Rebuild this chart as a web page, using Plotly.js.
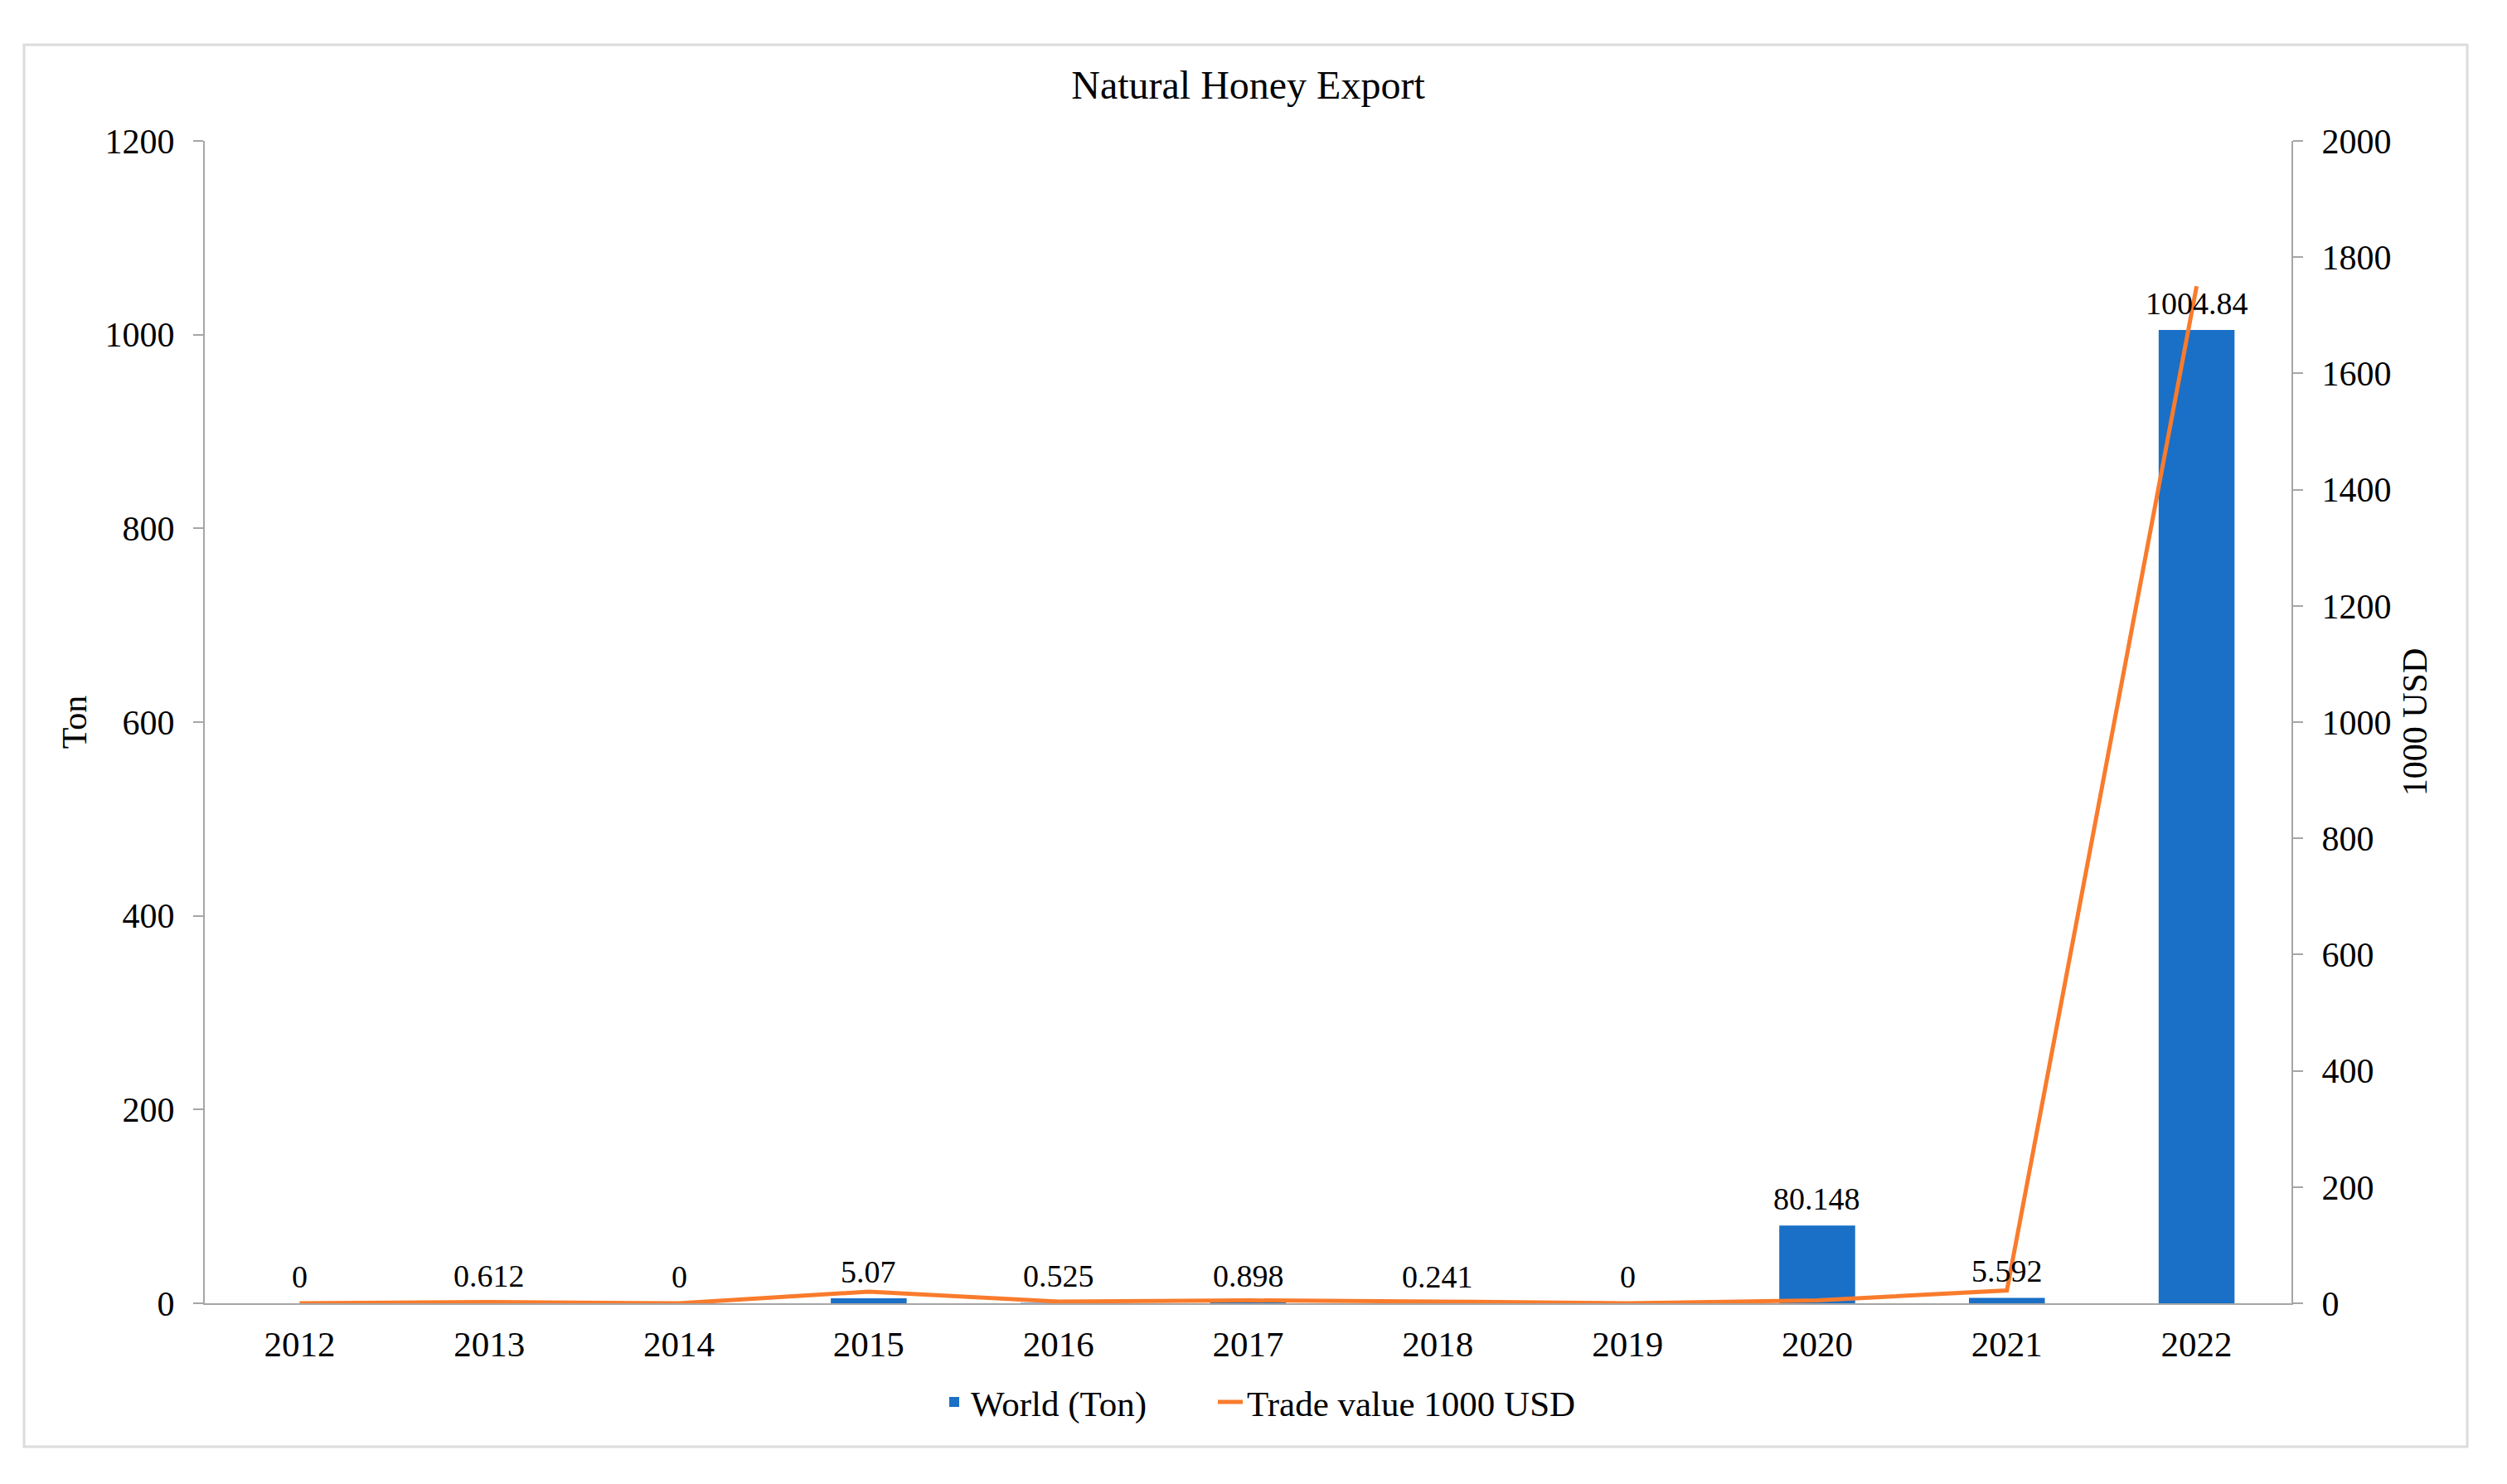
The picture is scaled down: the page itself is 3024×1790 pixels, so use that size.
<!DOCTYPE html>
<html>
<head>
<meta charset="utf-8">
<script src="https://cdn.plot.ly/plotly-3.0.1.min.js"></script>
<style>html,body{margin:0;padding:0;background:#fff;}#chart{width:3024px;height:1790px;}</style>
</head>
<body>
<div id="chart"></div>
<script>
const years = ['2012','2013','2014','2015','2016','2017','2018','2019','2020','2021','2022'];
const worldTon = [0, 0.612, 0, 5.07, 0.525, 0.898, 0.241, 0, 80.148, 5.592, 1004.84];
const tradeValue = [0, 2, 0, 20, 3, 5, 3, 0, 5, 22, 1750];
const leftTicks = [0, 200, 400, 600, 800, 1000, 1200];
const rightTicks = [0, 200, 400, 600, 800, 1000, 1200, 1400, 1600, 1800, 2000];

const FONT = '"Liberation Serif", "Times New Roman", serif';

const traces = [
  {
    type: 'bar',
    name: 'World (Ton)',
    x: years,
    y: worldTon,
    marker: {color: '#1a6fc6'},
    width: 0.4,
    yaxis: 'y',
    legend: 'legend'
  },
  {
    type: 'scatter',
    mode: 'lines',
    name: 'Trade value 1000 USD',
    x: years,
    y: tradeValue,
    line: {color: '#f97b2c', width: 5},
    cliponaxis: false,
    yaxis: 'y2',
    legend: 'legend2'
  }
];

// value labels above each bar, positioned on the category axis by index and on y by value
const labelAnnotations = years.map((yr, i) => ({
  x: years.indexOf(yr), y: worldTon[i], xref: 'x', yref: 'y',
  text: String(worldTon[i]),
  showarrow: false,
  yanchor: 'bottom',
  yshift: 9,
  font: {family: FONT, size: 38, color: '#000'}
}));

const axisCommon = {
  showline: true,
  linecolor: '#a6a6a6',
  linewidth: 2,
  showgrid: false,
  zeroline: false,
  ticks: 'outside',
  ticklen: 12,
  tickwidth: 2,
  tickcolor: '#a6a6a6',
  tickfont: {family: FONT, size: 42, color: '#000'},
  ticklabelstandoff: 14
};

const legendCommon = {
  orientation: 'h',
  xanchor: 'left',
  y: -(1691 - 1572) / 1402, yanchor: 'middle',
  font: {family: FONT, size: 43, color: '#000'},
  bgcolor: 'rgba(0,0,0,0)'
};

const layout = {
  width: 3024,
  height: 1790,
  margin: {l: 247, r: 260, t: 170, b: 218},
  paper_bgcolor: '#fff',
  plot_bgcolor: '#fff',
  font: {family: FONT, color: '#000'},
  showlegend: true,
  title: {
    text: 'Natural Honey Export',
    font: {family: FONT, size: 48, color: '#000'},
    x: 0.5, xref: 'paper',
    y: 1 - 102 / 1790, yref: 'container', yanchor: 'middle'
  },
  xaxis: {
    type: 'category',
    categoryorder: 'array',
    categoryarray: years,
    range: [-0.5, years.length - 0.5],
    showline: true,
    linecolor: '#a6a6a6',
    linewidth: 2,
    showgrid: false,
    zeroline: false,
    ticks: '',
    tickfont: {family: FONT, size: 43, color: '#000'},
    ticklabelstandoff: 10
  },
  yaxis: Object.assign({}, axisCommon, {
    range: [0, 1200],
    tickvals: leftTicks,
    ticktext: leftTicks.map(String),
    title: {text: 'Ton', font: {family: FONT, size: 42, color: '#000'}, standoff: 9}
  }),
  yaxis2: Object.assign({}, axisCommon, {
    range: [0, 2000],
    overlaying: 'y',
    side: 'right',
    tickvals: rightTicks,
    ticktext: rightTicks.map(String),
    title: {text: '1000 USD', font: {family: FONT, size: 42, color: '#000'}, standoff: 14}
  }),
  legend: Object.assign({}, legendCommon, {x: (1131 - 247) / 2517}),
  legend2: Object.assign({}, legendCommon, {x: (1464 - 247) / 2517}),
  annotations: labelAnnotations,
  shapes: [{
    type: 'rect', xref: 'paper', yref: 'paper',
    x0: (29 - 247) / 2517, x1: (2976 - 247) / 2517,
    y0: -(1745 - 1572) / 1402, y1: (1572 - 54) / 1402,
    line: {color: '#dcdcdc', width: 3},
    fillcolor: 'rgba(0,0,0,0)',
    layer: 'below'
  }]
};

Plotly.newPlot('chart', traces, layout, {displayModeBar: false, staticPlot: true});
</script>
</body>
</html>
